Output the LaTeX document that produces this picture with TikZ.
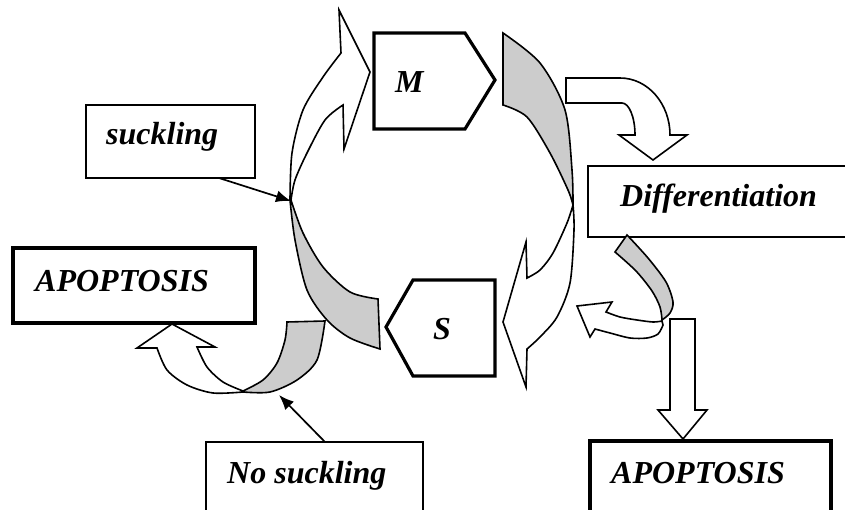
\documentclass[tikz,border=0pt]{standalone}
\usepackage{fontspec}
\setmainfont{Liberation Serif}
\usetikzlibrary{arrows.meta,calc}
\definecolor{shade}{RGB}{204,204,204}
\tikzset{
  band/.style={draw=black, line width=1.6pt, line join=miter},
  thinbox/.style={draw=black, line width=1.5pt, rectangle, inner sep=0pt, outer sep=0pt},
  thickbox/.style={draw=black, line width=3.4pt, rectangle, inner sep=0pt, outer sep=0pt},
  lbl/.style={font=\fontsize{32}{36}\selectfont\bfseries\itshape, inner sep=0pt, anchor=base west},
  pointer/.style={draw=black, line width=1.7pt, -{Latex[length=15pt,width=12pt]}}
}
\begin{document}
\begin{tikzpicture}[x=1pt,y=-1pt]
\useasboundingbox (0,0) rectangle (845,510);
\clip (0,0) rectangle (845,510);
\fill[white] (0,0) rectangle (845,510);

% ---- boxes
\node[thinbox, minimum width=169pt, minimum height=73pt, anchor=north west] (suckbox) at (86,105) {};
\node[thickbox, minimum width=242pt, minimum height=75pt, anchor=north west] (apoL) at (13,248) {};
\node[thinbox, minimum width=280pt, minimum height=71pt, anchor=north west] (diff) at (588,166) {};
\node[thickbox, minimum width=241pt, minimum height=100pt, anchor=north west] (apoR) at (590,441) {};
\node[thinbox, minimum width=217pt, minimum height=100pt, anchor=north west] (nsbox) at (206,442) {};

\node[lbl] (sucktxt) at (106,145) {suckling};
\node[lbl] (apoLtxt) at (35,292) {APOPTOSIS};
\node[lbl] (difftxt) at (620,207) {Differentiation};
\node[lbl] (apoRtxt) at (611,483) {APOPTOSIS};
\node[lbl] (nstxt) at (227,483) {No suckling};

% ---- M and S pentagons
\draw[line width=3.2pt, line join=miter] (374,33) -- (465,33) -- (495,80) -- (465,129) -- (374,129) -- cycle;
\node[lbl] (Mtxt) at (395,93) {M};
\draw[line width=3.2pt, line join=miter] (386,327) -- (413,280) -- (495,280) -- (495,376) -- (413,376) -- cycle;
\node[lbl] (Stxt) at (433,339) {S};

% ---- bent arrow to Differentiation (drawn first, hidden end)
\filldraw[band, fill=white] (566,78) -- (620,78) .. controls (648,78) and (670,104) .. (670,135)
  -- (687,135) -- (653,160) -- (619,135) -- (635,135)
  .. controls (635,117) and (629,103) .. (622,103) -- (566,103) -- cycle;

% ---- left big curved arrow (up to M)
\filldraw[band, fill=shade]
  plot[smooth] coordinates {(290,200) (295,240) (307,290) (327,320) (350,338) (380,349)}
  -- plot[smooth] coordinates {(378,299) (350,292) (323,267) (303,233) (291,200)} -- cycle;
\filldraw[band, fill=white]
  plot[smooth] coordinates {(290,200) (292,153) (303,110) (323,77) (341,53)}
  -- (339,10) -- (370,72) -- (344,149) -- (343,105)
  -- plot[smooth] coordinates {(343,105) (325,120) (307,153) (295,180) (291,200)} -- cycle;

% ---- right big curved arrow (down to S)
\filldraw[band, fill=shade]
  plot[smooth] coordinates {(503,33) (540,63) (565,110) (572,170) (573,205)}
  -- plot[smooth] coordinates {(573,205) (568,190) (550,153) (527,117) (503,105)} -- cycle;
\filldraw[band, fill=white]
  plot[smooth] coordinates {(573,205) (574,230) (570,283) (557,317) (540,337) (527,349)}
  -- (526,387) -- (503,322) -- (526,242) -- (527,278)
  -- plot[smooth] coordinates {(527,278) (540,270) (553,253) (567,223) (573,205)} -- cycle;

% ---- block arrow down to APOPTOSIS
\filldraw[band, fill=white] (670,319) -- (695,319) -- (695,410) -- (707,410) -- (683,439)
  -- (658,410) -- (670,410) -- cycle;

% ---- small curved arrow under Differentiation
\filldraw[band, fill=shade]
  plot[smooth] coordinates {(627,235) (648,258) (666,282) (673,302) (670,313) (662,320)}
  -- plot[smooth] coordinates {(662,320) (660,307) (652,291) (636,271) (615,252)} -- cycle;
\filldraw[band, fill=white]
  plot[smooth] coordinates {(662,321) (653,322) (637,320) (620,317) (606,312)}
  -- (612,302) -- (577,306) -- (590,337) -- (595,329)
  -- plot[smooth] coordinates {(595,329) (610,333) (630,338) (647,338) (658,334) (663,325)} -- cycle;

% ---- bottom-left curved arrow (to APOPTOSIS)
\filldraw[band, fill=shade]
  (287,322) -- (325,321)
  -- plot[smooth] coordinates {(325,321) (317,360) (297,380) (270,392) (243,392)}
  -- plot[smooth] coordinates {(243,391) (263,380) (277,363) (285,340) (287,322)} -- cycle;
\filldraw[band, fill=white]
  plot[smooth] coordinates {(243,392) (213,393) (187,385) (167,370) (157,348)}
  -- (137,348) -- (172,324) -- (215,347) -- (197,347)
  -- plot[smooth] coordinates {(197,347) (207,367) (223,382) (243,391)} -- cycle;

% ---- pointers
\coordinate (crossL) at (291,201);
\coordinate (nsTarget) at (279,395);
\draw[pointer] (suckbox.-37.5) -- (crossL);
\draw[pointer] ($(nsbox.north west)+(119,0)$) -- (nsTarget);
\end{tikzpicture}
\end{document}
